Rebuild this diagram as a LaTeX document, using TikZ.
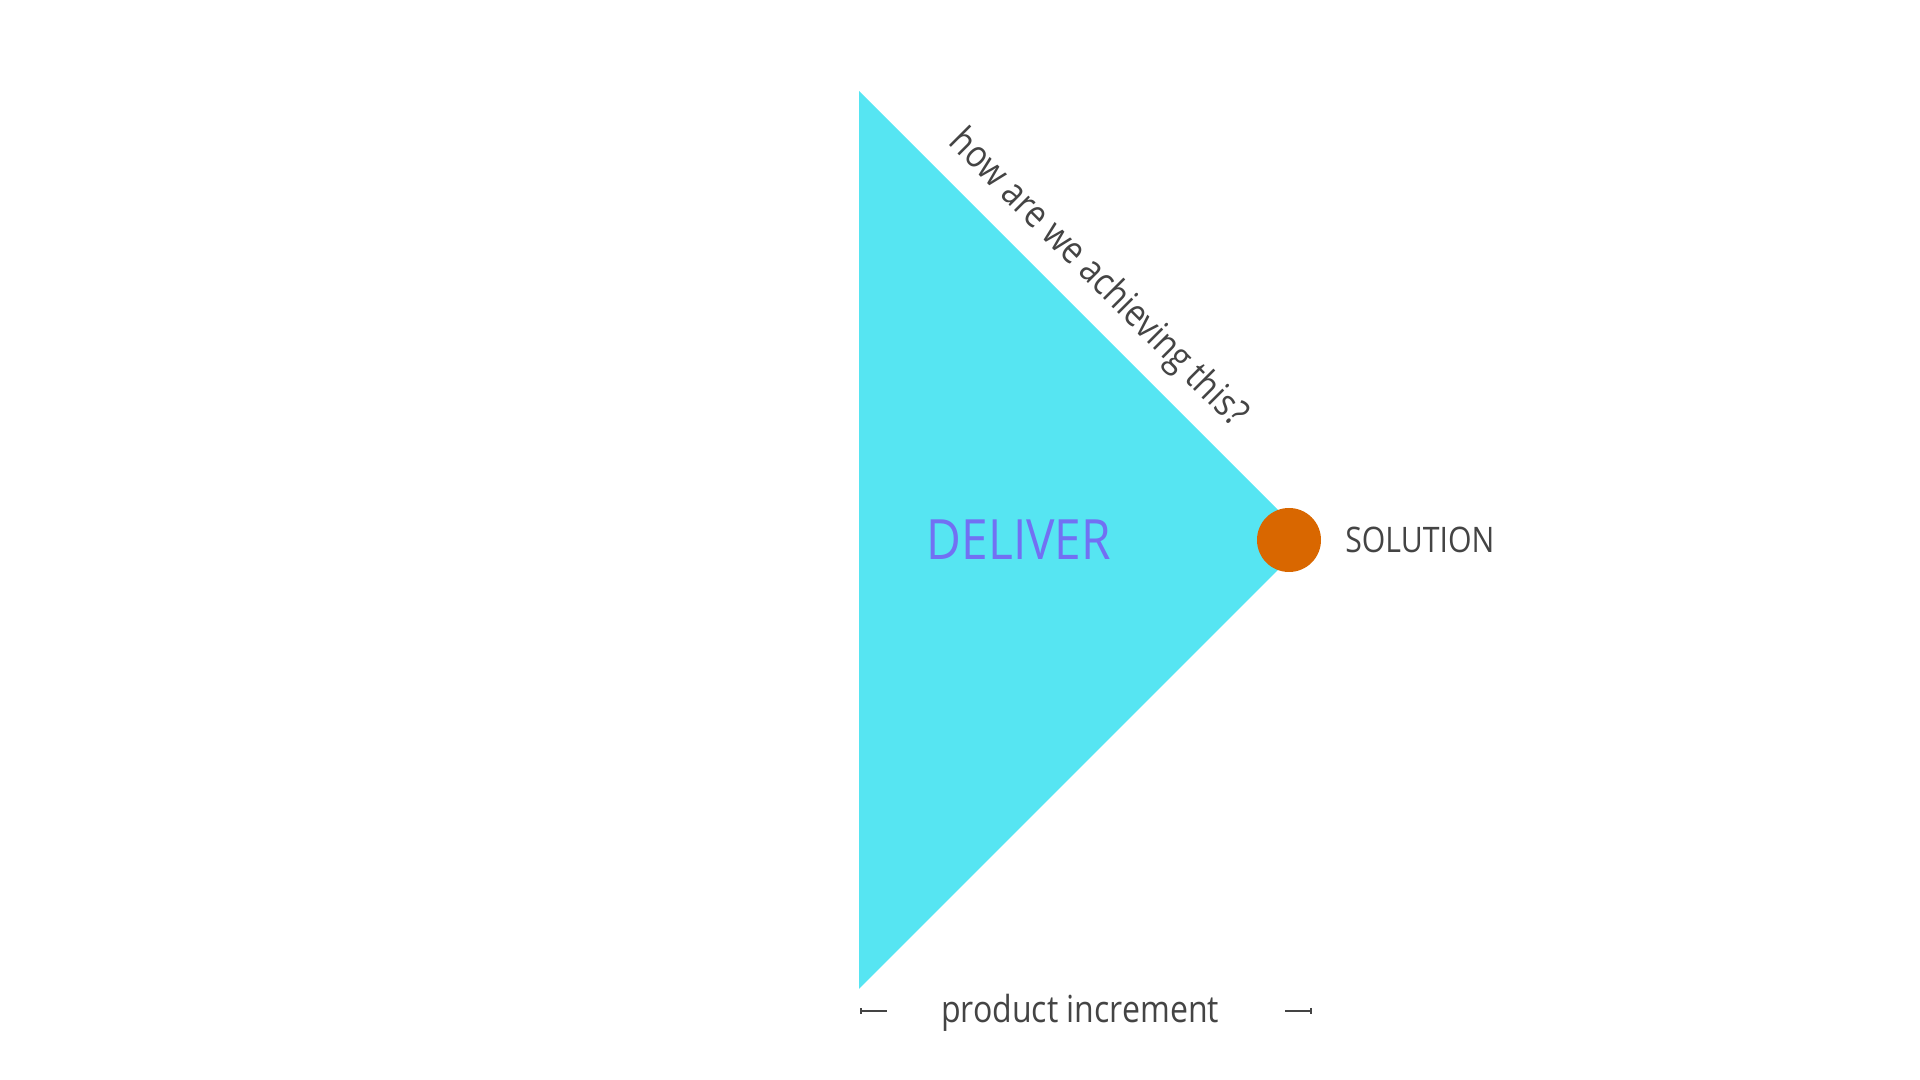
\documentclass[tikz,border=0pt]{standalone}
\usepackage{fontspec}
\setmainfont{Open Sans}[FakeStretch=0.86]
\usetikzlibrary{arrows.meta}
\definecolor{deliverfill}{RGB}{86,229,242}
\definecolor{deliverink}{RGB}{114,112,243}
\definecolor{solutiondot}{RGB}{217,103,0}
\definecolor{labelgray}{RGB}{68,68,68}

\begin{document}
\begin{tikzpicture}[x=0.01cm,y=0.01cm]
			\tikzstyle{every node}+=[inner sep=0pt]
			\tikzstyle{gray label}=[text=labelgray, font=\fontsize{10}{12}\selectfont]
			\tikzstyle{span bar}=[draw=labelgray, line width=0.5pt]
			\useasboundingbox (0,0) rectangle (1920,-1080);
			\coordinate (top) at (859,-91);
			\coordinate (tip) at (1308,-540);
			\coordinate (bot) at (859,-989);
			\fill [deliverfill] (top) -- (tip) -- (bot) -- cycle;
			\path (top) -- (tip) node (question) [pos=0.475, sloped, above=4.5pt, text=labelgray, font=\fontsize{10.8}{13}\selectfont] {how are we achieving this?};
			\node (deliver) at (1019,-540) [text=deliverink, font=\fontsize{15.8}{18}\selectfont] {DELIVER};
			\node (sol) at (1289,-540) [circle, fill=solutiondot, minimum size=18.2pt] {};
			\node (solution) [gray label, anchor=west] at ([xshift=6.5pt]sol.east) {SOLUTION};
			\node (increment) [gray label, anchor=base, font=\fontsize{10.6}{12}\selectfont] at (1080,-1023) {product increment};
			\coordinate (span l1) at (860,-1011);
			\coordinate (span l2) at (887,-1011);
			\coordinate (span r1) at (1285,-1011);
			\coordinate (span r2) at (1312,-1011);
			\draw [span bar, {Bar[width=1.8pt]}-] (span l1) -- (span l2);
			\draw [span bar, -{Bar[width=1.8pt]}] (span r1) -- (span r2);
\end{tikzpicture}
\end{document}
